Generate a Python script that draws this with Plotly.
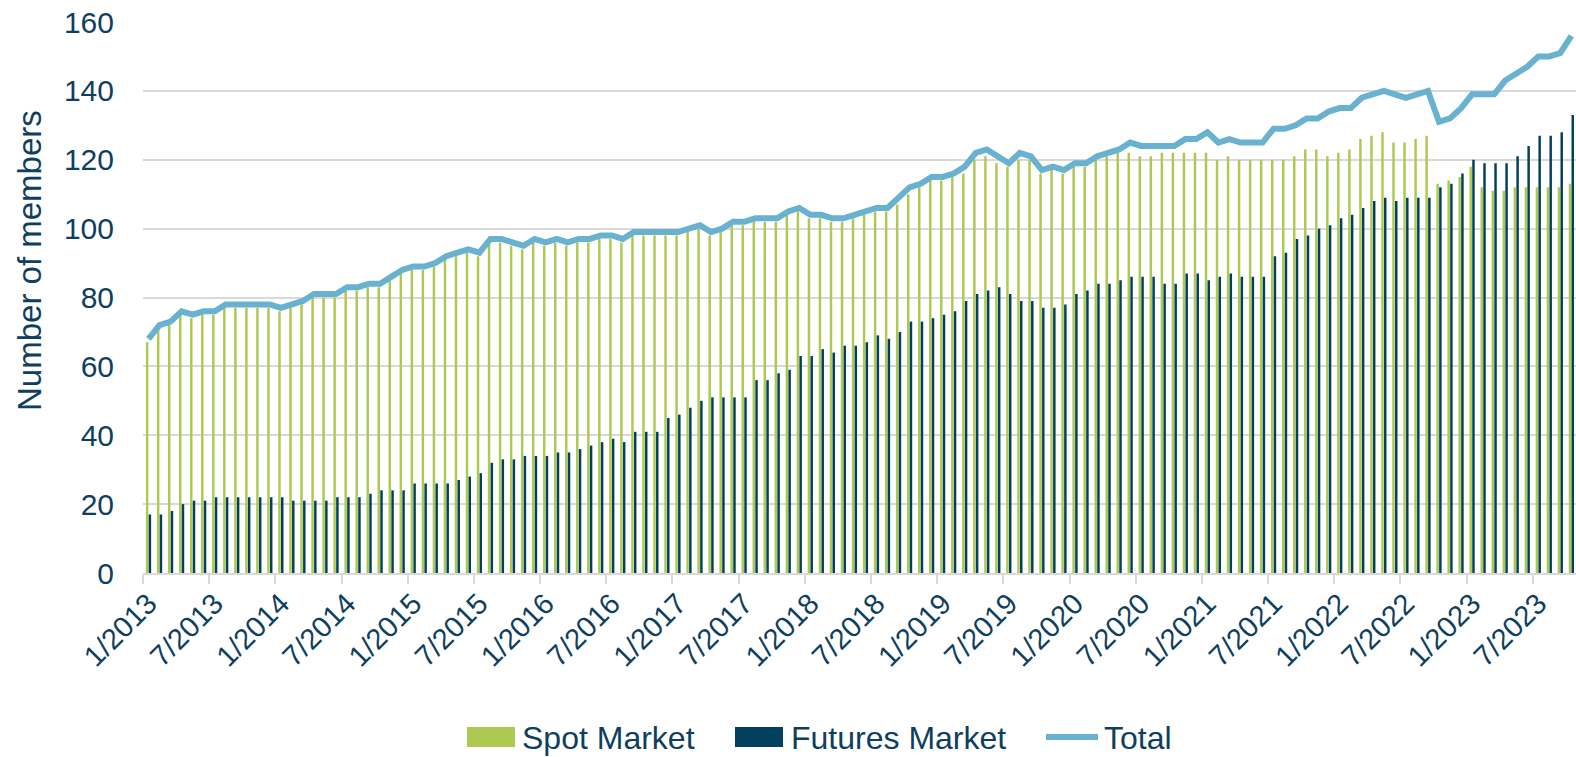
import plotly.graph_objects as go

# Monthly categories 1/2013 .. 10/2023
months = [f"{m}/{y}" for y in range(2013, 2024) for m in range(1, 13)][:130]

spot = [67, 71, 72, 75, 74, 75, 75, 77, 77, 77, 77, 77, 76, 77, 78, 80, 80, 80, 82, 82,
        83, 83, 85, 87, 88, 88, 89, 91, 92, 93, 92, 96, 96, 95, 94, 96, 95, 96, 95, 96,
        96, 97, 97, 96, 98, 98, 98, 98, 98, 99, 100, 98, 99, 101, 101, 102, 102, 102, 104, 105,
        103, 103, 102, 102, 103, 104, 105, 105, 107, 110, 112, 114, 114, 115, 116, 120, 121, 119, 118, 120,
        120, 116, 117, 116, 118, 118, 120, 121, 122, 122, 121, 121, 122, 122, 122, 122, 122, 120, 121, 120,
        120, 120, 120, 120, 121, 123, 123, 121, 122, 123, 126, 127, 128, 125, 125, 126, 127, 113, 114, 115,
        118, 112, 111, 111, 112, 112, 112, 112, 112, 113]

futures = [17, 17, 18, 20, 21, 21, 22, 22, 22, 22, 22, 22, 22, 21, 21, 21, 21, 22, 22, 22,
           23, 24, 24, 24, 26, 26, 26, 26, 27, 28, 29, 32, 33, 33, 34, 34, 34, 35, 35, 36,
           37, 38, 39, 38, 41, 41, 41, 45, 46, 48, 50, 51, 51, 51, 51, 56, 56, 58, 59, 63,
           63, 65, 64, 66, 66, 67, 69, 68, 70, 73, 73, 74, 75, 76, 79, 81, 82, 83, 81, 79,
           79, 77, 77, 78, 81, 82, 84, 84, 85, 86, 86, 86, 84, 84, 87, 87, 85, 86, 87, 86,
           86, 86, 92, 93, 97, 98, 100, 101, 103, 104, 106, 108, 109, 108, 109, 109, 109, 112, 113, 116,
           120, 119, 119, 119, 121, 124, 127, 127, 128, 133]

total = [68, 72, 73, 76, 75, 76, 76, 78, 78, 78, 78, 78, 77, 78, 79, 81, 81, 81, 83, 83,
         84, 84, 86, 88, 89, 89, 90, 92, 93, 94, 93, 97, 97, 96, 95, 97, 96, 97, 96, 97,
         97, 98, 98, 97, 99, 99, 99, 99, 99, 100, 101, 99, 100, 102, 102, 103, 103, 103, 105, 106,
         104, 104, 103, 103, 104, 105, 106, 106, 109, 112, 113, 115, 115, 116, 118, 122, 123, 121, 119, 122,
         121, 117, 118, 117, 119, 119, 121, 122, 123, 125, 124, 124, 124, 124, 126, 126, 128, 125, 126, 125,
         125, 125, 129, 129, 130, 132, 132, 134, 135, 135, 138, 139, 140, 139, 138, 139, 140, 131, 132, 135,
         139, 139, 139, 143, 145, 147, 150, 150, 151, 156]

series_names = ["Spot Market", "Futures Market", "Total"]

GREEN = "#adc952"
NAVY = "#03405f"
BLUE = "#68b1cf"
TXT = "#0f3f5f"
GRID = "#d9d9d9"
FONT = "Liberation Sans, Arial, sans-serif"

fig = go.Figure()
fig.add_trace(go.Bar(x=months, y=spot, name=series_names[0], marker=dict(color=GREEN, line=dict(width=0))))
fig.add_trace(go.Bar(x=months, y=futures, name=series_names[1], marker=dict(color=NAVY, line=dict(width=0))))
fig.add_trace(go.Scatter(x=months, y=total, name=series_names[2], mode="lines",
                         line=dict(color=BLUE, width=6)))

fig.update_layout(
    width=1576, height=757,
    margin=dict(l=143, r=0, t=22, b=184, autoexpand=False),
    paper_bgcolor="white", plot_bgcolor="white",
    barmode="group", bargap=0.5, bargroupgap=0.1,
    font=dict(family=FONT, color=TXT, size=28),
    showlegend=False,
)
fig.update_xaxes(type="category", range=[-0.5, 129.42], dtick=6, tickson="boundaries",
                 tickangle=-45, ticks="outside", ticklen=9, tickwidth=2, tickcolor=GRID,
                 showline=True, linecolor=GRID, linewidth=2, showgrid=False, automargin=False,
                 ticklabeloverflow="allow", tickfont=dict(size=29, color=TXT))
fig.update_yaxes(range=[0, 160], dtick=20, showgrid=True, gridcolor=GRID, gridwidth=2,
                 zeroline=False, showline=False, ticks="", ticklabelstandoff=28, automargin=False,
                 ticklabeloverflow="allow", tickfont=dict(size=30, color=TXT))
fig.add_annotation(text="Number of members", xref="paper", yref="paper",
                   x=-0.0796, y=0.568, textangle=-90, showarrow=False,
                   font=dict(size=33, color=TXT), xanchor="center", yanchor="middle")

# legend drawn below the plot (swatch + label for each series)
def px_x(p):
    return (p - 143) / 1433

def px_y(p):
    return (573 - p) / 551

leg_y = 737
fig.add_shape(type="rect", xref="paper", yref="paper", x0=px_x(467), x1=px_x(515),
              y0=px_y(747), y1=px_y(727), fillcolor=GREEN, line=dict(width=0))
fig.add_shape(type="rect", xref="paper", yref="paper", x0=px_x(735), x1=px_x(783),
              y0=px_y(747), y1=px_y(727), fillcolor=NAVY, line=dict(width=0))
fig.add_shape(type="line", xref="paper", yref="paper", x0=px_x(1046), x1=px_x(1098),
              y0=px_y(leg_y), y1=px_y(leg_y), line=dict(color=BLUE, width=6))
for name, xpx in zip(series_names, [520, 789, 1102]):
    fig.add_annotation(text=name, xref="paper", yref="paper", x=px_x(xpx), y=px_y(leg_y + 1),
                       xanchor="left", yanchor="middle", showarrow=False,
                       font=dict(size=32, color=TXT))

fig.write_html("out.html", config={"displayModeBar": False},
               post_script="document.body.style.margin='0';document.body.style.overflow='hidden';")
